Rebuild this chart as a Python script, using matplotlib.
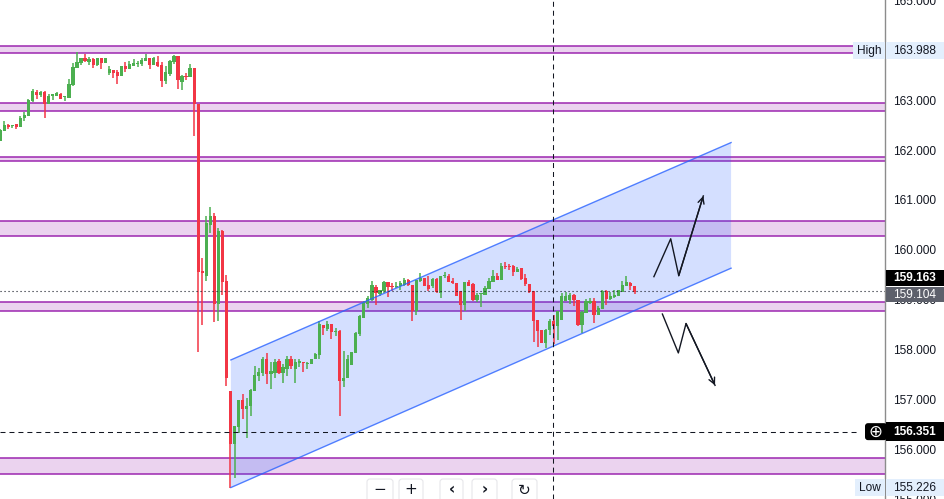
import matplotlib
matplotlib.use("Agg")
import matplotlib.pyplot as plt
from matplotlib.patches import Rectangle, Polygon, FancyBboxPatch

plt.rcParams['font.family'] = ['Liberation Sans', 'DejaVu Sans']

# OHLC, oldest first
opens = [162.19, 162.39, 162.50, 162.48, 162.52, 162.47, 162.65, 162.69, 162.99, 163.16,
         163.10, 163.16, 162.93, 163.09, 163.09, 163.12, 163.06, 163.05, 163.30, 163.65,
         163.75, 163.85, 163.77, 163.82, 163.71, 163.84, 163.75, 163.54, 163.61, 163.56,
         163.49, 163.68, 163.63, 163.69, 163.73, 163.73, 163.79, 163.85, 163.70, 163.77,
         163.70, 163.39, 163.53, 163.76, 163.88, 163.37, 163.49, 163.46, 163.64, 162.93,
         159.57, 159.47, 160.50, 160.67, 158.91, 160.37, 159.37, 157.17, 156.10, 156.45,
         156.98, 156.80, 156.87, 157.17, 157.47, 157.52, 157.80, 157.50, 157.53, 157.77,
         157.52, 157.61, 157.80, 157.60, 157.72, 157.74, 157.71, 157.70, 157.80, 157.88,
         158.50, 158.42, 158.52, 158.35, 158.37, 157.37, 157.42, 157.68, 157.92, 158.30,
         158.63, 158.92, 159.00, 159.25, 159.12, 159.17, 159.35, 159.28, 159.25, 159.27,
         159.30, 159.40, 159.30, 158.78, 159.37, 159.43, 159.30, 159.27, 159.41, 159.13,
         159.47, 159.48, 159.36, 159.33, 159.17, 158.89, 159.35, 159.31, 158.99, 159.11,
         159.10, 159.22, 159.35, 159.48, 159.40, 159.68, 159.67, 159.67, 159.55, 159.63,
         159.43, 159.32, 159.17, 158.59, 158.39, 158.12, 158.40, 158.57, 158.47, 158.60,
         158.97, 159.00, 159.09, 159.00, 158.50, 158.73, 158.93, 158.97, 158.70, 158.82,
         159.17, 159.02, 159.05, 159.08, 159.15, 159.28, 159.33, 159.28]
highs = [162.42, 162.59, 162.53, 162.51, 162.52, 162.68, 162.77, 163.02, 163.22, 163.21,
         163.19, 163.18, 163.12, 163.13, 163.17, 163.15, 163.09, 163.43, 163.75, 163.96,
         163.85, 163.92, 163.87, 163.84, 163.85, 163.85, 163.85, 163.69, 163.61, 163.60,
         163.68, 163.76, 163.78, 163.82, 163.78, 163.84, 163.93, 163.85, 163.87, 163.88,
         163.77, 163.68, 163.81, 163.91, 163.88, 163.51, 163.55, 163.72, 163.64, 162.93,
         159.83, 160.68, 160.85, 160.73, 160.43, 160.40, 159.50, 157.17, 156.47, 156.98,
         157.11, 157.02, 157.21, 157.67, 157.63, 157.85, 157.93, 157.75, 157.81, 157.80,
         157.70, 157.87, 157.87, 157.80, 157.80, 157.74, 157.75, 157.81, 157.93, 158.57,
         158.50, 158.57, 158.52, 158.43, 158.40, 157.97, 157.88, 157.95, 158.35, 158.70,
         158.97, 159.07, 159.37, 159.30, 159.19, 159.37, 159.35, 159.33, 159.36, 159.37,
         159.43, 159.41, 159.30, 159.39, 159.53, 159.43, 159.48, 159.43, 159.43, 159.48,
         159.55, 159.52, 159.43, 159.33, 159.17, 159.35, 159.39, 159.33, 159.13, 159.13,
         159.28, 159.43, 159.59, 159.53, 159.73, 159.75, 159.72, 159.70, 159.65, 159.63,
         159.52, 159.32, 159.17, 158.59, 158.39, 158.41, 158.61, 158.70, 158.77, 159.13,
         159.15, 159.13, 159.12, 159.00, 158.77, 159.01, 159.03, 159.03, 158.88, 159.20,
         159.20, 159.15, 159.20, 159.20, 159.37, 159.48, 159.35, 159.28]
lows = [162.19, 162.39, 162.42, 162.45, 162.42, 162.47, 162.59, 162.69, 162.97, 163.03,
        163.07, 162.65, 162.93, 163.01, 163.09, 163.03, 162.98, 163.05, 163.28, 163.65,
        163.71, 163.76, 163.71, 163.65, 163.68, 163.63, 163.75, 163.51, 163.45, 163.33,
        163.49, 163.57, 163.63, 163.69, 163.67, 163.68, 163.79, 163.63, 163.70, 163.67,
        163.27, 163.33, 163.49, 163.73, 163.23, 163.21, 163.41, 163.46, 162.28, 157.95,
        158.50, 159.37, 160.33, 158.55, 158.57, 159.10, 157.27, 155.23, 155.43, 156.33,
        156.60, 156.23, 156.67, 157.17, 157.37, 157.47, 157.30, 157.21, 157.43, 157.50,
        157.32, 157.47, 157.61, 157.32, 157.65, 157.55, 157.60, 157.70, 157.80, 157.80,
        158.28, 158.37, 158.20, 158.27, 156.67, 157.25, 157.42, 157.68, 157.92, 158.27,
        158.63, 158.83, 158.97, 158.90, 159.07, 159.13, 159.05, 159.17, 159.23, 159.20,
        159.28, 159.28, 158.57, 158.69, 159.35, 159.27, 159.17, 159.23, 159.13, 159.03,
        159.43, 159.35, 159.32, 159.07, 158.59, 158.78, 159.28, 158.97, 158.95, 158.85,
        159.10, 159.22, 159.35, 159.39, 159.39, 159.61, 159.60, 159.48, 159.55, 159.39,
        159.28, 159.13, 158.15, 158.05, 158.12, 158.02, 158.28, 158.10, 158.19, 158.60,
        158.97, 158.91, 158.88, 158.48, 158.33, 158.73, 158.92, 158.53, 158.70, 158.82,
        158.90, 159.00, 159.03, 159.07, 159.15, 159.27, 159.19, 159.12]
closes = [162.40, 162.50, 162.47, 162.51, 162.47, 162.65, 162.71, 163.00, 163.18, 163.11,
          163.16, 162.93, 163.08, 163.11, 163.15, 163.03, 163.07, 163.32, 163.67, 163.76,
          163.85, 163.78, 163.82, 163.70, 163.84, 163.75, 163.85, 163.62, 163.55, 163.49,
          163.68, 163.63, 163.72, 163.75, 163.75, 163.80, 163.85, 163.71, 163.85, 163.69,
          163.39, 163.57, 163.78, 163.88, 163.40, 163.48, 163.47, 163.64, 162.93, 159.55,
          159.53, 160.53, 160.67, 158.91, 160.37, 159.35, 157.43, 156.10, 156.47, 156.98,
          156.80, 156.87, 157.19, 157.48, 157.55, 157.80, 157.50, 157.57, 157.75, 157.52,
          157.65, 157.80, 157.67, 157.75, 157.77, 157.72, 157.73, 157.81, 157.90, 158.52,
          158.43, 158.52, 158.35, 158.36, 157.37, 157.43, 157.81, 157.95, 158.32, 158.67,
          158.93, 159.03, 159.30, 159.13, 159.19, 159.35, 159.25, 159.25, 159.28, 159.33,
          159.39, 159.29, 158.78, 159.39, 159.43, 159.28, 159.21, 159.41, 159.15, 159.47,
          159.50, 159.35, 159.34, 159.07, 158.89, 159.35, 159.28, 158.99, 159.10, 159.12,
          159.23, 159.37, 159.47, 159.40, 159.68, 159.65, 159.65, 159.55, 159.62, 159.41,
          159.31, 159.15, 158.57, 158.37, 158.12, 158.40, 158.57, 158.47, 158.77, 159.07,
          159.07, 159.09, 158.99, 158.50, 158.75, 158.97, 158.97, 158.70, 158.83, 159.17,
          159.01, 159.07, 159.10, 159.19, 159.30, 159.35, 159.27, 159.16]

# support / resistance bands (low, high)
zones = [(163.95, 164.09), (162.79, 162.95), (161.79, 161.87),
         (160.28, 160.57), (158.77, 158.95), (155.51, 155.83)]

# rising channel drawn on the chart (bar index, price)
channel_x = [57.1, 180.9]
channel_upper = [157.79, 162.15]
channel_lower = [155.23, 159.63]

# scenario arrows
up_x = [161.8, 165.96, 167.95, 174.03]
up_y = [159.46, 160.22, 159.48, 161.08]
down_x = [163.9, 167.85, 169.75, 176.93]
down_y = [158.71, 157.93, 158.52, 157.28]

price_ticks = [155, 156, 157, 158, 159, 160, 161, 162, 163, 164, 165]
last_price = 159.163
prev_price = 159.104
cross_price = 156.351
cross_idx = 136.9
high_price = 163.988
low_price = 155.226

GREEN = '#4caf50'
RED = '#f23645'
PURPLE = '#9c27b0'
BLUE = '#2962ff'
TEXT = '#131722'

W, H = 945, 499
fig = plt.figure(figsize=(W / 100, H / 100), dpi=100)
ax = fig.add_axes([0, 0, 885 / W, 1])
ax.set_xlim(-0.05, 219.0)
ax.set_ylim(155.03, 165.01)

for z in zones:
    ax.axhspan(z[0], z[1], color=PURPLE, alpha=0.2, lw=0, zorder=1)
    ax.axhline(z[0], color=PURPLE, lw=1.1, zorder=1.5)
    ax.axhline(z[1], color=PURPLE, lw=1.1, zorder=1.5)

chan = Polygon([(channel_x[0], channel_lower[0]), (channel_x[1], channel_lower[1]),
                (channel_x[1], channel_upper[1]), (channel_x[0], channel_upper[0])],
               closed=True, facecolor=BLUE, alpha=0.2, lw=0, zorder=2)
ax.add_patch(chan)

# candles
xs = list(range(len(opens)))
colors = [GREEN if c >= o else RED for o, c in zip(opens, closes)]
ax.vlines(xs, lows, highs, colors=colors, lw=1.1, zorder=3)
bottoms = [min(o, c) for o, c in zip(opens, closes)]
heights = [max(abs(c - o), 0.025) for o, c in zip(opens, closes)]
ax.bar(xs, heights, bottom=bottoms, width=0.8, color=colors, lw=0, zorder=3.2)

ax.plot(channel_x, channel_upper, color=BLUE, lw=1.0, alpha=0.8, zorder=4)
ax.plot(channel_x, channel_lower, color=BLUE, lw=1.0, alpha=0.8, zorder=4)

for px, py in [(up_x, up_y), (down_x, down_y)]:
    ax.plot(px, py, color=TEXT, lw=1.0, zorder=5)
    ax.annotate('', xy=(px[-1], py[-1]), xytext=(px[-2], py[-2]),
                arrowprops=dict(arrowstyle='->', color=TEXT, lw=1.0,
                                shrinkA=0, shrinkB=0, mutation_scale=11), zorder=5)

# last price line and crosshair
ax.axhline(last_price, color=TEXT, lw=0.8, linestyle=(0, (1, 2.6)), zorder=6)
ax.hlines(cross_price, -0.05, 212.1, color=TEXT, lw=0.75, linestyle=(0, (4.8, 3.8)), zorder=6)
ax.axvline(cross_idx, color=TEXT, lw=0.75, linestyle=(0, (4.8, 3.8)), zorder=6)

for s in ['top', 'left', 'bottom']:
    ax.spines[s].set_visible(False)
ax.spines['right'].set_color('#8c8c8c')
ax.spines['right'].set_linewidth(1.0)
ax.set_xticks([])
ax.yaxis.tick_right()
ax.set_yticks(price_ticks)
ax.set_yticklabels([f"{v:.3f}" for v in price_ticks])
ax.tick_params(axis='y', length=0, pad=5.8, labelsize=8.6, labelcolor=TEXT)

# overlay in pixel coordinates for price tags and buttons
ui = fig.add_axes([0, 0, 1, 1], zorder=5)
ui.set_xlim(0, W)
ui.set_ylim(H, 0)
ui.axis('off')
ui.patch.set_alpha(0)


def py_of(price):
    return H - ax.transData.transform((0, price))[1]


def tag(price, text, face, color, bold=False, h=17):
    yc = py_of(price)
    ui.add_patch(Rectangle((885.5, yc - h / 2), W - 885.5, h, facecolor=face, lw=0))
    ui.text(893, yc + 0.5, text, color=color, fontsize=8.6, va='center', ha='left',
            fontweight='bold' if bold else 'normal')
    return yc


yc = tag(high_price, f"{high_price:.3f}", '#e3effd', TEXT)
ui.add_patch(Rectangle((853, yc - 8.5), 32, 17, facecolor='#e3effd', lw=0))
ui.text(869, yc + 0.5, 'High', color=TEXT, fontsize=8.6, va='center', ha='center')

yc = tag(low_price, f"{low_price:.3f}", '#e3effd', TEXT)
ui.add_patch(Rectangle((855, yc - 8.5), 30, 17, facecolor='#e3effd', lw=0))
ui.text(870, yc + 0.5, 'Low', color=TEXT, fontsize=8.6, va='center', ha='center')

tag(prev_price, f"{prev_price:.3f}", '#5d606b', 'white', h=15)
# last price tag is pushed up to avoid overlapping the other one
tag(last_price + 0.28, f"{last_price:.3f}", '#000000', 'white', bold=True, h=16)

yc = tag(cross_price, f"{cross_price:.3f}", '#000000', 'white', bold=True, h=19)
ui.add_patch(FancyBboxPatch((865, yc - 8.5), 22, 17, boxstyle='round,pad=0,rounding_size=3',
                            facecolor='#000000', lw=0))
ui.text(875, yc + 0.5, '\u2295', color='white', fontsize=12, va='center', ha='center',
        family=['DejaVu Sans'])

# bottom navigation buttons
buttons = [(367, 393, '\u2212'), (399, 423, '+'), (440, 463, '\u2039'),
           (472, 497, '\u203a'), (512, 537, '\u21bb')]
for x0, x1, label in buttons:
    ui.add_patch(FancyBboxPatch((x0, 479), x1 - x0, 26, boxstyle='round,pad=0,rounding_size=3',
                                facecolor='white', edgecolor='#e6e6ea', lw=0.8))
    ui.text((x0 + x1) / 2, 490, label, color=TEXT, fontsize=11, va='center', ha='center',
            family=['DejaVu Sans'], fontweight='bold' if label in '\u2039\u203a' else 'normal')

fig.savefig("out.png", dpi=100)
